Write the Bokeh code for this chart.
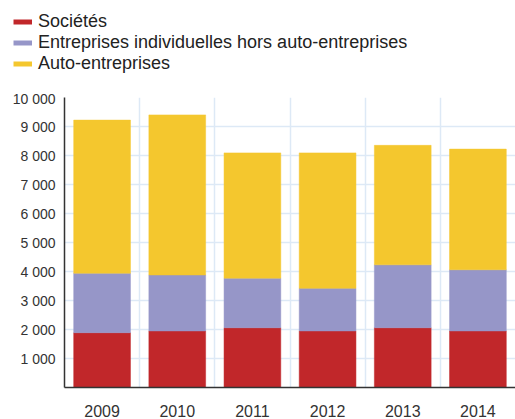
from bokeh.plotting import figure
from bokeh.models import ColumnDataSource, FixedTicker, Range1d, Legend, LegendItem
from bokeh.layouts import column
from bokeh.embed import file_html
from bokeh.resources import INLINE

years = ["2009", "2010", "2011", "2012", "2013", "2014"]
societes = [1890, 1950, 2060, 1950, 2060, 1950]
indiv = [2050, 1930, 1710, 1470, 2170, 2110]
auto = [5280, 5520, 4320, 4670, 4120, 4160]
series_names = ["Sociétés", "Entreprises individuelles hors auto-entreprises", "Auto-entreprises"]
colors = ["#c1272a", "#9696c8", "#f4c72e"]
y_ticks = [1000, 2000, 3000, 4000, 5000, 6000, 7000, 8000, 9000, 10000]
y_tick_labels = ["1 000", "2 000", "3 000", "4 000", "5 000", "6 000", "7 000", "8 000", "9 000", "10 000"]

FONT = "Liberation Sans"

xs = [i + 0.5 for i in range(len(years))]
source = ColumnDataSource(dict(x=xs, s=societes, i=indiv, a=auto))

# ---- legend strip on top ----
lg = figure(width=515, height=90, output_backend="svg", toolbar_location=None,
            x_range=Range1d(0, 1), y_range=Range1d(0, 1),
            min_border_left=13, min_border_top=11, min_border_right=0, min_border_bottom=0)
lg.frame_align = False
lg.outline_line_color = None
lg.xaxis.visible = False
lg.yaxis.visible = False
lg.xgrid.visible = False
lg.ygrid.visible = False
items = []
for name, c in zip(series_names, colors):
    # single-point line: draws nothing in the strip, only provides the legend swatch
    r = lg.line(x=[0], y=[0], line_color=c, line_width=5)
    items.append(LegendItem(label=name, renderers=[r]))
legend = Legend(items=items, location="top_left", orientation="vertical")
legend.padding = 0
legend.margin = 0
legend.spacing = 0
legend.glyph_width = 19
legend.glyph_height = 19
legend.label_height = 19
legend.label_standoff = 6
legend.label_text_font = FONT
legend.label_text_font_size = "18px"
legend.label_text_line_height = 1.08
legend.label_text_color = "#222222"
legend.border_line_color = None
legend.background_fill_alpha = 0
lg.add_layout(legend, "center")

# ---- main chart ----
p = figure(width=515, height=329, output_backend="svg", toolbar_location=None,
           x_range=Range1d(0, len(years)), y_range=Range1d(0, 10000),
           min_border_left=64, min_border_right=0, min_border_top=7, min_border_bottom=0)
p.frame_align = False
p.outline_line_color = None
p.background_fill_color = "white"
p.border_fill_color = "white"

p.vbar_stack(["s", "i", "a"], x="x", width=0.755, source=source,
             fill_color=colors, line_color=colors, line_width=0.5)

p.ygrid.ticker = FixedTicker(ticks=y_ticks)
p.ygrid.grid_line_color = "#dde9f6"
p.ygrid.grid_line_width = 1.5
p.xgrid.ticker = FixedTicker(ticks=list(range(1, len(years) + 1)))
p.xgrid.grid_line_color = "#dde9f6"
p.xgrid.grid_line_width = 1.5

p.yaxis.ticker = FixedTicker(ticks=y_ticks)
p.yaxis.major_label_overrides = {t: l for t, l in zip(y_ticks, y_tick_labels)}
p.xaxis.ticker = FixedTicker(ticks=xs)
p.xaxis.major_label_overrides = {x: y for x, y in zip(xs, years)}
for ax in (p.xaxis, p.yaxis):
    ax.major_tick_in = 0
    ax.major_tick_out = 0
    ax.minor_tick_in = 0
    ax.minor_tick_out = 0
    ax.axis_line_color = "#333333"
    ax.axis_line_width = 1.5
    ax.major_label_text_font = FONT
    ax.major_label_text_color = "#333333"
p.yaxis.major_label_text_font_size = "14px"
p.yaxis.major_label_standoff = 9
p.xaxis.major_label_text_font_size = "16px"
p.xaxis.major_label_standoff = 17

layout = column(lg, p, spacing=0)
open("out.html", "w").write(file_html(layout, INLINE))
